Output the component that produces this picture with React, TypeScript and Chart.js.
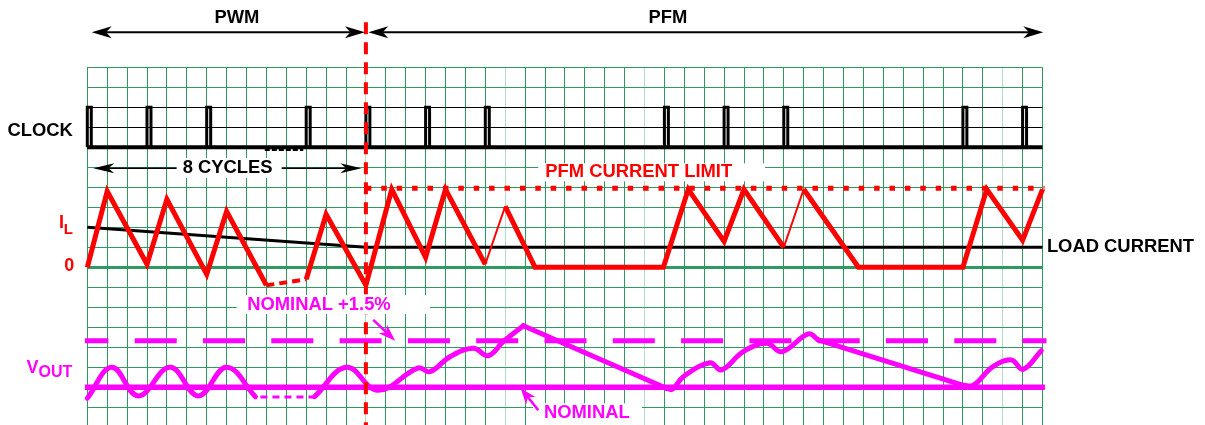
import React, { useEffect, useRef } from "react";
import { Chart, registerables } from "chart.js";

Chart.register(...registerables);

// ---------------- data (x: clock-grid columns, y: grid rows, 0 = zero current) ----------------
const X_MIN = 0;
const X_MAX = 48;
const Y_MIN = -7.885;
const Y_MAX = 10;

const modeBoundaryT = [14, 14];
const modeBoundaryV = [12.25, Y_MIN];

const clockPulseTimes = [0, 3, 6, 11, 14, 17, 20, 29, 32, 35, 44, 47];
const clockLevels = [6, 8]; // low, high
const clockBaseT = [0, 48];
const clockSkipT = [8.92, 10.85];
const clockSkipV = [5.86, 5.86];

const ilSolid1T = [0, 1, 3, 4, 6, 7, 9];
const ilSolid1V = [0, 3.8, 0.15, 3.4, -0.35, 2.8, -0.9];
const ilSkipT = [9, 11];
const ilSkipV = [-0.9, -0.6];
const ilSolid2T = [11, 12, 14, 15.3, 17, 18, 20];
const ilSolid2V = [-0.6, 2.65, -0.9, 3.9, 0.5, 3.9, 0.15];
const ilThin1T = [20, 21];
const ilThin1V = [0.15, 3.05];
const ilSolid3T = [21, 22.5, 28.95, 30.2, 32, 33, 35];
const ilSolid3V = [3.05, 0, 0, 3.9, 1.3, 3.9, 1.0];
const ilThin2T = [35, 36];
const ilThin2V = [1.0, 3.9];
const ilSolid4T = [36, 38.75, 44, 45.2, 47, 48];
const ilSolid4V = [3.9, 0, 0, 3.9, 1.35, 3.9];

const loadCurrentT = [0, 14, 48];
const loadCurrentV = [2.0, 1.0, 1.0];
const pfmLimitT = [14, 48.1];
const pfmLimitV = [3.95, 3.95];

const vNominalT = [-0.12, 48.12];
const vNominalV = [-6, -6];
const vUpperT = [-0.12, 48.2];
const vUpperV = [-3.67, -3.67];

const vPwmT = [0, 1.23, 2.56, 4.16, 5.58, 7.0, 8.45];
const vPwmV = [-6.55, -5.0, -6.43, -5.0, -6.43, -5.0, -6.47];
const vSkipT = [8.7, 11.42];
const vSkipV = [-6.48, -6.48];
const vPfmAT = [11.42, 13.03, 14.6, 16.63, 17.22, 18.23, 19.4, 20.15, 20.9, 21.91];
const vPfmAV = [-6.47, -5.0, -6.15, -5.03, -5.22, -4.47, -4.05, -4.42, -3.72, -2.92];
const vRampAT = [21.91, 29.1];
const vRampAV = [-2.92, -6.05];
const vPfmBT = [29.1, 29.4, 29.95, 31.29, 31.88, 32.96, 34.14, 34.9, 36.23, 36.73];
const vPfmBV = [-6.05, -6.1, -5.47, -4.77, -5.13, -4.22, -3.8, -4.22, -3.33, -3.63];
const vRampBT = [36.73, 44.02];
const vRampBV = [-3.63, -5.9];
const vPfmCT = [44.02, 44.52, 45.51, 46.44, 47.02, 47.94];
const vPfmCV = [-5.9, -5.9, -4.97, -4.63, -5.1, -4.17];

// ---------------- style / layout ----------------
const RED = "#ff0000";
const MAGENTA = "#ff00ff";
const BLACK = "#000000";
const GRID_GREEN = "#2e9a62";
const LIGHT_GREEN = "#b5dcc6";
const LIGHT_COLUMNS = [14, 21, 28, 46];
const BLACK_ROWS = [7, 8];
const PULSE_W = 0.2;
const FONT = '"Liberation Sans", Arial, Helvetica, sans-serif';
const F = 18.4;

const TEXT_LABELS = [
  { text: "PWM", x: 7.52, y: 12.45, align: "center", base: "middle", size: F, color: BLACK },
  { text: "PFM", x: 29.18, y: 12.45, align: "center", base: "middle", size: F, color: BLACK },
  { text: "CLOCK", x: -4.01, y: 6.83, align: "left", base: "middle", size: F, color: BLACK },
  { text: "8 CYCLES", x: 7.05, y: 4.98, align: "center", base: "middle", size: F, color: BLACK },
  { text: "PFM CURRENT LIMIT", x: 27.71, y: 4.75, align: "center", base: "middle", size: F, color: RED },
  { text: "LOAD CURRENT", x: 48.22, y: 1.03, align: "left", base: "middle", size: F, color: BLACK },
  { text: "0", x: -0.66, y: 0.05, align: "right", base: "middle", size: 18, color: RED },
  { text: "I", x: -1.42, y: 1.95, align: "left", base: "alphabetic", size: 18, color: RED },
  { text: "L", x: -1.18, y: 1.67, align: "left", base: "alphabetic", size: 15, color: RED },
  { text: "V", x: -3.06, y: -5.3, align: "left", base: "alphabetic", size: 18, color: MAGENTA },
  { text: "OUT", x: -2.45, y: -5.47, align: "left", base: "alphabetic", size: 16, color: MAGENTA },
  { text: "NOMINAL +1.5%", x: 11.64, y: -1.89, align: "center", base: "middle", size: F, color: MAGENTA },
  { text: "NOMINAL", x: 25.1, y: -7.29, align: "center", base: "middle", size: F, color: MAGENTA },
];

const LABEL_BACKDROPS = [
  { x0: 4.49, x1: 9.77, y0: 5.47, y1: 4.47 },
  { x0: 22.66, x1: 34.06, y0: 5.2, y1: 4.3 },
  { x0: 7.51, x1: 17.22, y0: -1.39, y1: -2.34 },
  { x0: 22.4, x1: 27.87, y0: -6.8, y1: -7.885 },
];

const ARROWS = [
  { x0: 0.22, y0: 11.75, x1: 13.95, y1: 11.75, both: true, color: BLACK, width: 2, head: 20, headW: 12, layer: "over" },
  { x0: 14.12, y0: 11.75, x1: 48.04, y1: 11.75, both: true, color: BLACK, width: 2, head: 20, headW: 12, layer: "over" },
  { x0: 0.3, y0: 4.95, x1: 13.77, y1: 4.95, both: true, color: BLACK, width: 1.5, head: 21, headW: 10, layer: "under" },
  { x0: 14.37, y0: -2.63, x1: 15.47, y1: -3.67, both: false, color: MAGENTA, width: 2.5, head: 17, headW: 12, layer: "over" },
  { x0: 22.66, y0: -7.14, x1: 21.78, y1: -6.05, both: false, color: MAGENTA, width: 2.5, head: 16, headW: 12, layer: "over" },
];

const pts = (t: number[], v: number[]) => t.map((x, i) => ({ x, y: v[i] }));

function clockPulseData() {
  const [low, high] = clockLevels;
  const out: any[] = [];
  clockPulseTimes.forEach((t) => {
    out.push({ x: t, y: low }, { x: t, y: high }, { x: t + PULSE_W, y: high }, { x: t + PULSE_W, y: low }, { x: t + PULSE_W, y: null });
  });
  return out;
}

function line(data: any[], color: string, width: number, extra: any = {}) {
  return {
    data,
    borderColor: color,
    backgroundColor: color,
    borderWidth: width,
    pointRadius: 0,
    pointHoverRadius: 0,
    fill: false,
    tension: 0,
    clip: false,
    spanGaps: false,
    ...extra,
  };
}

function headAt(ctx: CanvasRenderingContext2D, x: number, y: number, ang: number, len: number, w: number) {
  ctx.save();
  ctx.translate(x, y);
  ctx.rotate(ang);
  ctx.beginPath();
  ctx.moveTo(0, 0);
  ctx.lineTo(-len, -w / 2);
  ctx.lineTo(-len * 0.72, 0);
  ctx.lineTo(-len, w / 2);
  ctx.closePath();
  ctx.fill();
  ctx.restore();
}

function drawArrow(ctx: CanvasRenderingContext2D, a: any, px: (v: number) => number, py: (v: number) => number) {
  const X0 = px(a.x0), Y0 = py(a.y0), X1 = px(a.x1), Y1 = py(a.y1);
  const ang = Math.atan2(Y1 - Y0, X1 - X0);
  const c = Math.cos(ang), s = Math.sin(ang);
  const inset = a.head * 0.72;
  ctx.save();
  ctx.strokeStyle = a.color;
  ctx.fillStyle = a.color;
  ctx.lineWidth = a.width;
  ctx.beginPath();
  ctx.moveTo(a.both ? X0 + c * inset : X0, a.both ? Y0 + s * inset : Y0);
  ctx.lineTo(X1 - c * inset, Y1 - s * inset);
  ctx.stroke();
  headAt(ctx, X1, Y1, ang, a.head, a.headW);
  if (a.both) headAt(ctx, X0, Y0, ang + Math.PI, a.head, a.headW);
  ctx.restore();
}

const annotationPlugin = {
  id: "timingAnnotations",
  afterDatasetsDraw(chart: any) {
    const ctx: CanvasRenderingContext2D = chart.ctx;
    const xs = chart.scales.x, ys = chart.scales.y;
    const px = (v: number) => xs.getPixelForValue(v);
    const py = (v: number) => ys.getPixelForValue(v);
    ARROWS.filter((a) => a.layer === "under").forEach((a) => drawArrow(ctx, a, px, py));
    ctx.save();
    ctx.fillStyle = "#ffffff";
    LABEL_BACKDROPS.forEach((b) => {
      const x0 = px(b.x0), x1 = px(b.x1), y0 = py(b.y0), y1 = py(b.y1);
      ctx.fillRect(x0, y0, x1 - x0, y1 - y0);
    });
    ctx.restore();
    ARROWS.filter((a) => a.layer === "over").forEach((a) => drawArrow(ctx, a, px, py));
    ctx.save();
    TEXT_LABELS.forEach((l) => {
      ctx.font = `bold ${l.size}px ${FONT}`;
      ctx.fillStyle = l.color;
      ctx.textAlign = l.align as CanvasTextAlign;
      ctx.textBaseline = l.base as CanvasTextBaseline;
      ctx.fillText(l.text, px(l.x), py(l.y));
    });
    ctx.restore();
  },
};

export default function App() {
  const ref = useRef<HTMLCanvasElement>(null);

  useEffect(() => {
    const curve = { tension: 0.4, borderCapStyle: "round", borderJoinStyle: "round" };
    const straight = { borderCapStyle: "round", borderJoinStyle: "round" };
    const datasets: any[] = [
      line(pts(vNominalT, vNominalV), MAGENTA, 5.5, { order: 20 }),
      line(pts(vUpperT, vUpperV), MAGENTA, 5, { order: 20, borderDash: [42, 26.3], borderDashOffset: 18.5 }),
      line(pts(vPwmT, vPwmV), MAGENTA, 5, { order: 19, ...curve }),
      line(pts(vSkipT, vSkipV), MAGENTA, 3, { order: 19, borderDash: [7, 5] }),
      line(pts(vPfmAT, vPfmAV), MAGENTA, 5, { order: 19, ...curve }),
      line(pts(vRampAT, vRampAV), MAGENTA, 5, { order: 19, ...straight }),
      line(pts(vPfmBT, vPfmBV), MAGENTA, 5, { order: 19, ...curve }),
      line(pts(vRampBT, vRampBV), MAGENTA, 5, { order: 19, ...straight }),
      line(pts(vPfmCT, vPfmCV), MAGENTA, 5, { order: 19, ...curve }),
      line(pts(loadCurrentT, loadCurrentV), BLACK, 3, { order: 15 }),
      line(pts(pfmLimitT, pfmLimitV), RED, 5, { order: 14, borderDash: [5.5, 9.9] }),
      line(pts(ilSolid1T, ilSolid1V), RED, 5, { order: 12 }),
      line(pts(ilSkipT, ilSkipV), RED, 4, { order: 12, borderDash: [8, 5] }),
      line(pts(ilSolid2T, ilSolid2V), RED, 5, { order: 12 }),
      line(pts(ilThin1T, ilThin1V), RED, 2, { order: 12 }),
      line(pts(ilSolid3T, ilSolid3V), RED, 5, { order: 12 }),
      line(pts(ilThin2T, ilThin2V), RED, 2, { order: 12 }),
      line(pts(ilSolid4T, ilSolid4V), RED, 5, { order: 12 }),
      line(pts(clockBaseT, [clockLevels[0], clockLevels[0]]), BLACK, 4, { order: 10 }),
      line(clockPulseData(), BLACK, 3, { order: 10 }),
      line(pts(clockSkipT, clockSkipV), BLACK, 2, { order: 10, borderDash: [5, 2] }),
      line(pts(modeBoundaryT, modeBoundaryV), RED, 4, { order: 1, borderDash: [12, 8] }),
    ];

    const xTicks: number[] = [];
    for (let i = X_MIN; i <= X_MAX; i++) xTicks.push(i);
    const yTicks: number[] = [];
    for (let i = Math.ceil(Y_MIN); i <= Y_MAX; i++) yTicks.push(i);

    const chart = new Chart(ref.current as HTMLCanvasElement, {
      type: "line",
      data: { datasets },
      options: {
        animation: false,
        responsive: false,
        events: [],
        layout: { padding: { left: 87.3, right: 162.5, top: 67.3, bottom: 0 } },
        plugins: { legend: { display: false }, tooltip: { enabled: false } },
        scales: {
          x: {
            type: "linear",
            min: X_MIN,
            max: X_MAX,
            ticks: { display: false },
            grid: {
              drawTicks: false,
              lineWidth: 1,
              color: (c: any) => (LIGHT_COLUMNS.includes(c.tick?.value) ? LIGHT_GREEN : GRID_GREEN),
            },
            border: { display: false },
            afterBuildTicks: (s: any) => {
              s.ticks = xTicks.map((value) => ({ value }));
            },
            afterFit: (s: any) => {
              s.height = 0;
            },
          },
          y: {
            type: "linear",
            min: Y_MIN,
            max: Y_MAX,
            ticks: { display: false },
            grid: {
              drawTicks: false,
              lineWidth: (c: any) => (c.tick?.value === 0 ? 3 : 1),
              color: (c: any) => (BLACK_ROWS.includes(c.tick?.value) ? BLACK : GRID_GREEN),
            },
            border: { display: false },
            afterBuildTicks: (s: any) => {
              s.ticks = yTicks.map((value) => ({ value }));
            },
            afterFit: (s: any) => {
              s.width = 0;
            },
          },
        },
      } as any,
      plugins: [annotationPlugin],
    });
    return () => chart.destroy();
  }, []);

  return (
    <div style={{ position: "absolute", left: 0, top: 0, width: 1205, height: 425, background: "#ffffff" }}>
      <canvas ref={ref} width={1205} height={425} style={{ display: "block" }} />
    </div>
  );
}
